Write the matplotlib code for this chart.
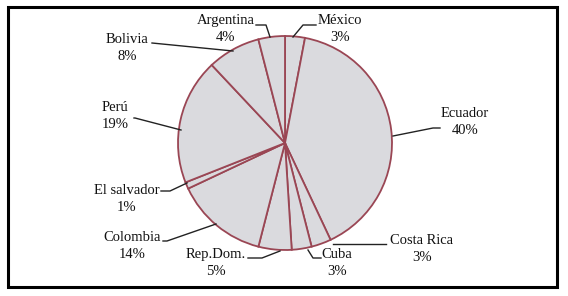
import matplotlib
matplotlib.use("Agg")
import matplotlib.pyplot as plt
from matplotlib.patches import Rectangle

countries = ["México", "Ecuador", "Costa Rica", "Cuba", "Rep.Dom.",
             "Colombia", "El salvador", "Perú", "Bolivia", "Argentina"]
percents = [3, 40, 3, 3, 5, 14, 1, 19, 8, 4]

# label text centers (pixel coords) and leader line paths (pixel coords)
label_pos = [(340, 29), (465, 122), (422, 249), (337, 263), (216, 263),
             (132, 246), (127, 199), (115, 116), (127, 48), (226, 29)]
leaders = [
    [(293, 37), (303, 25), (316, 25)],
    [(393, 136), (433, 128), (440, 128)],
    [(333, 244), (386, 244)],
    [(308, 250), (313, 258), (321, 258)],
    [(280, 251), (262, 258), (248, 258)],
    [(216, 224), (167, 241), (163, 241)],
    [(187, 183), (170, 191), (161, 191)],
    [(181, 130), (135, 118), (134, 118)],
    [(233, 51), (152, 43)],
    [(270, 37), (266, 25), (256, 25)],
]

W, H = 568, 296
fig = plt.figure(figsize=(W / 100, H / 100), dpi=100)
ax = fig.add_axes([0, 0, 1, 1])

cx, cy, r = 285, 143, 107
ax.pie(percents, startangle=90, counterclock=False, center=(cx, H - cy), radius=r,
       colors=["#dadade"] * len(percents),
       wedgeprops=dict(edgecolor="#9a4654", linewidth=1.3))
ax.set_xlim(0, W)
ax.set_ylim(0, H)
ax.set_aspect("auto")
ax.axis("off")

serif = ["Liberation Serif", "DejaVu Serif"]
for name, pct, (tx, ty), path in zip(countries, percents, label_pos, leaders):
    ax.text(tx, H - ty, f"{name}\n{pct}%", ha="center", va="center",
            fontsize=10.5, family=serif, linespacing=1.4, color="#111111")
    xs = [p[0] for p in path]
    ys = [H - p[1] for p in path]
    ax.plot(xs, ys, color="#222222", lw=1.0)

ax.add_patch(Rectangle((8, H - 287), 549, 280, fill=False, edgecolor="black",
                       lw=2.2, transform=ax.transData))

fig.savefig("out.png", dpi=100)
